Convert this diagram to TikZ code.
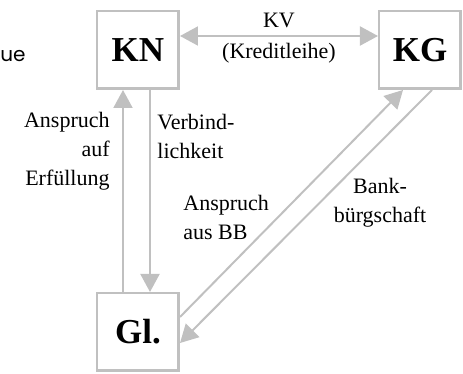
\documentclass[tikz,border=0pt]{standalone}
\usepackage{fontspec}
\setmainfont{Liberation Serif}
\newfontfamily\uefont{Poppins}
\usetikzlibrary{arrows.meta, positioning}
\definecolor{cline}{HTML}{C0C0C0}

\begin{document}
\begin{tikzpicture}[x=0.5pt, y=-0.5pt,
  party/.style={draw=cline, line width=1.25pt, minimum width=40.75pt,
                minimum height=38.75pt, inner sep=0pt,
                font=\fontsize{17.5}{20}\selectfont\bfseries},
  arr/.style={-{Triangle[length=9pt, width=9.5pt]}, draw=cline, line width=1pt},
  biarr/.style={{Triangle[length=9pt, width=9.5pt]}-{Triangle[length=9pt, width=9.5pt]},
                draw=cline, line width=1pt},
  lbl/.style={font=\fontsize{11}{14.5}\selectfont, inner sep=0pt, align=#1}
]
\useasboundingbox (0,0) rectangle (463,374);

%% ── Parties
\node[party] (KN) at (138, 50)  {KN};
\node[party] (KG) at (420, 50)  {KG};
\node[party] (Gl) at (138, 332) {Gl.};

%% ── side text at the left edge
\node[font=\uefont\fontsize{10}{12}\selectfont, anchor=base west, inner sep=0pt] (ue) at (0, 62) {ue};

%% ── KV between KN and KG
\draw[biarr] ([yshift=7pt]KN.east) -- ([yshift=7pt]KG.west)
  node[midway, above=3.5pt, lbl=center] {KV}
  node[midway, below=3pt, lbl=center] {(Kreditleihe)};

%% ── KN <-> Gl.
\draw[arr] ([xshift=-7.5pt]Gl.north) -- ([xshift=-7.5pt]KN.south);
\draw[arr] ([xshift=6pt]KN.south) -- ([xshift=6pt]Gl.north);
\node[lbl=right, anchor=east] (erf) at (110, 151) {Anspruch\\auf\\Erfüllung};
\node[lbl=left, anchor=west] (verb) at (157, 136) {Verbind-\\lichkeit};

%% ── Gl. <-> KG
\draw[arr] ([yshift=7.5pt]Gl.east) -- ([xshift=-8.5pt]KG.south);
\draw[arr] ([xshift=6pt]KG.south) -- ([yshift=-5.5pt]Gl.east);
\node[lbl=left, anchor=west] (bb) at (183, 217) {Anspruch\\aus BB};
\node[lbl=center] (bank) at (380, 203) {Bank-\\bürgschaft};

\end{tikzpicture}
\end{document}
